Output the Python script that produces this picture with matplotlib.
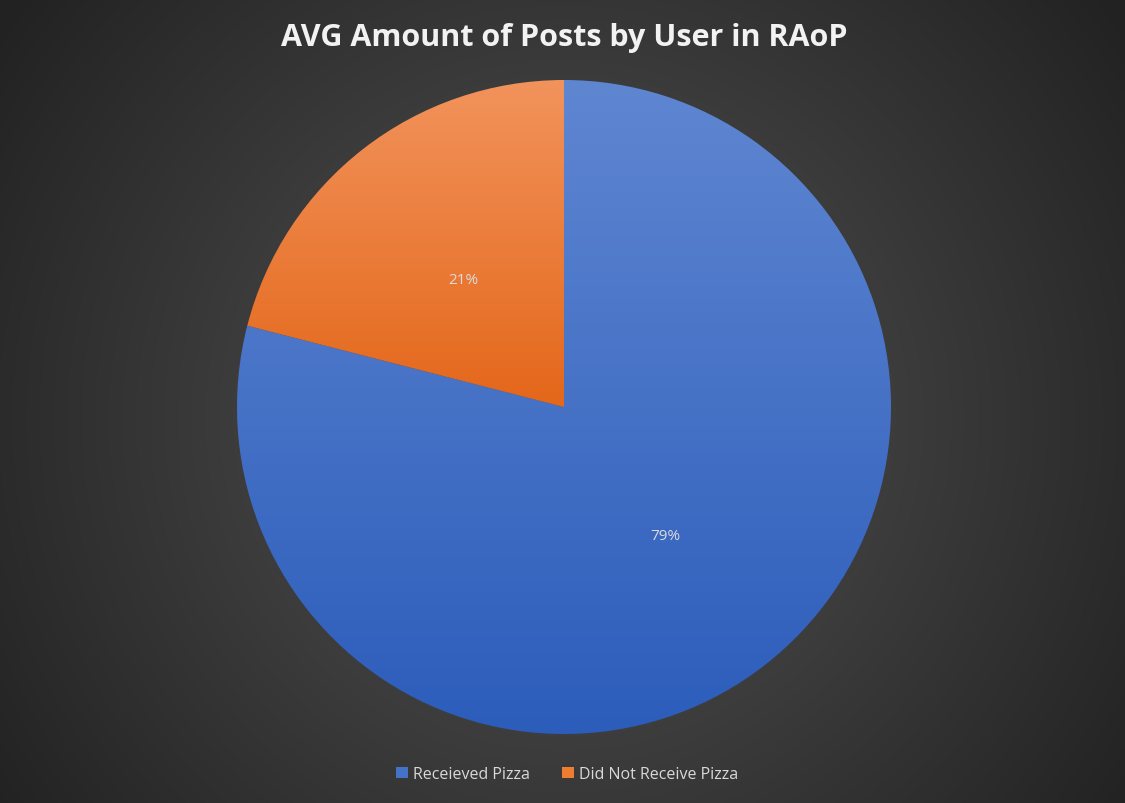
import numpy as np
import matplotlib
matplotlib.use("Agg")
import matplotlib.pyplot as plt
from matplotlib.colors import LinearSegmentedColormap
from matplotlib.patches import Rectangle

title = "AVG Amount of Posts by User in RAoP"
labels = ["Receieved Pizza", "Did Not Receive Pizza"]
values = [79, 21]
pct_labels = ["79%", "21%"]
grad_top = ["#5f86d1", "#f2935c"]
grad_bot = ["#2c5dbb", "#e4671a"]
legend_colors = ["#4472c4", "#ed7d31"]

W, H = 1125, 804
fig = plt.figure(figsize=(W / 100, H / 100), dpi=100)

# radial gradient background
bg = fig.add_axes([0, 0, 1, 1])
yy, xx = np.mgrid[0:H, 0:W]
cx, cy = 564, 420
r = np.sqrt((xx - cx) ** 2 + (yy - cy) ** 2)
r = np.clip(r / 690.0, 0, 1)
c_in = np.array([0x54, 0x54, 0x54]) / 255
c_out = np.array([0x22, 0x22, 0x22]) / 255
img = c_in[None, None, :] * (1 - r[..., None]) + c_out[None, None, :] * r[..., None]
bg.imshow(img, extent=[0, W, H, 0], aspect="auto", interpolation="bilinear")
bg.set_xlim(0, W)
bg.set_ylim(H, 0)
bg.axis("off")

# pie axes
R = 327
pcx, pcy = 564, 408
ax = fig.add_axes([(pcx - R) / W, (H - pcy - R) / H, 2 * R / W, 2 * R / H])
wedges, _ = ax.pie(values, startangle=90, counterclock=False, radius=1,
                   colors=legend_colors, wedgeprops=dict(linewidth=0))
for i, w in enumerate(wedges):
    w.set_facecolor("none")
    bb = w.get_path().get_extents(w.get_patch_transform())
    y0, y1 = bb.y0, bb.y1
    cmap = LinearSegmentedColormap.from_list("g%d" % i, [grad_bot[i], grad_top[i]])
    grad = np.linspace(0, 1, 256)[:, None]
    im = ax.imshow(grad, extent=[-1, 1, y0, y1], origin="lower", cmap=cmap,
                   aspect="auto", zorder=0)
    im.set_clip_path(w)

ax.set_xlim(-1, 1)
ax.set_ylim(-1, 1)
ax.set_aspect("equal")
ax.axis("off")

# percentage labels
ax.text((665 - pcx) / R, -(537 - pcy) / R, pct_labels[0], ha="center", va="center",
        color="#dcdcdc", fontsize=11, family="Open Sans")
ax.text((463 - pcx) / R, -(281 - pcy) / R, pct_labels[1], ha="center", va="center",
        color="#dcdcdc", fontsize=11, family="Open Sans")

# title
fig.text(564 / W, 1 - 38 / H, title, ha="center", va="center", color="#f2f2f2",
         fontsize=22, fontweight="bold", family="Open Sans")

# legend
handles = [Rectangle((0, 0), 1, 1, facecolor=c, edgecolor="none") for c in legend_colors]
leg = fig.legend(handles, labels, loc="center", bbox_to_anchor=(567 / W, 1 - 775 / H),
                 ncol=2, frameon=False, handlelength=0.75, handleheight=0.75,
                 handletextpad=0.3, columnspacing=2.0,
                 prop=dict(family="Open Sans", size=11.5))
for t in leg.get_texts():
    t.set_color("#d9d9d9")

fig.savefig("out.png", dpi=100)
